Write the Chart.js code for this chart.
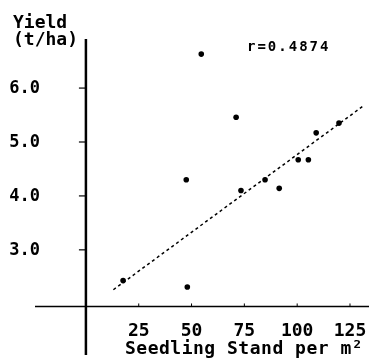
<!DOCTYPE html>
<html>
<head>
<meta charset="utf-8">
<script src="https://cdn.jsdelivr.net/npm/chart.js@4"></script>
<style>
  html, body { margin: 0; padding: 0; background: #fff; }
  #wrap { width: 373px; height: 364px; }
</style>
</head>
<body>
<div id="wrap"><canvas id="canvas1"></canvas></div>
<script>
// values
const seedlingStand = [17.6, 48, 47.5, 54.6, 71.1, 73.4, 84.8, 91.5, 100.5, 105.3, 109, 119.8];
const yieldValues = [2.43, 2.31, 4.30, 6.63, 5.46, 4.10, 4.30, 4.14, 4.67, 4.67, 5.17, 5.35];
// fitted line, read at both ends
const fitX = [13, 131];
const fitY = [2.26, 5.66];
const xTicks = [25, 50, 75, 100, 125];
const yTicks = [3, 4, 5, 6];
const xAxisAt = 1.95;   // where the x axis crosses the y axis
const yAxisAt = 0;

const monoFont = 'DejaVu Sans Mono';

function toPoints(xs, ys) {
    return xs.map((x, i) => ({ x: x, y: ys[i] }));
}

// axes are crossed inside the plot, so draw them by hand from the scales
const axesPlugin = {
    id: 'axes',
    beforeDatasetsDraw(chart) {
        const c = chart.ctx;
        const xs = chart.scales.x;
        const ys = chart.scales.y;
        const area = chart.chartArea;
        const x0 = xs.getPixelForValue(yAxisAt);
        const y0 = ys.getPixelForValue(xAxisAt);
        c.save();
        c.strokeStyle = '#000';
        c.fillStyle = '#000';

        c.lineWidth = 1.5;
        c.beginPath();
        c.moveTo(area.left, y0);
        c.lineTo(area.right, y0);
        c.stroke();

        c.lineWidth = 2.5;
        c.beginPath();
        c.moveTo(x0, area.top);
        c.lineTo(x0, area.bottom);
        c.stroke();

        // y ticks
        c.lineWidth = 1.2;
        c.font = 'bold 17px "' + monoFont + '"';
        c.textAlign = 'right';
        c.textBaseline = 'middle';
        yTicks.forEach(v => {
            const py = ys.getPixelForValue(v);
            c.beginPath();
            c.moveTo(x0 - 7, py);
            c.lineTo(x0, py);
            c.stroke();
            c.fillText(v.toFixed(1), 40, py + 1);
        });

        // x ticks
        c.lineWidth = 1;
        c.font = 'bold 18px "' + monoFont + '"';
        c.textAlign = 'center';
        c.textBaseline = 'alphabetic';
        xTicks.forEach(v => {
            const px = xs.getPixelForValue(v);
            c.beginPath();
            c.moveTo(px, y0 - 3);
            c.lineTo(px, y0);
            c.stroke();
            c.fillText(String(v), px, 336);
        });
        c.restore();
    }
};

// texts that sit outside the normal axis spots
const labelsPlugin = {
    id: 'labels',
    afterDraw(chart) {
        const c = chart.ctx;
        c.save();
        c.fillStyle = '#000';
        c.textBaseline = 'alphabetic';
        c.textAlign = 'left';
        c.font = 'bold 18px "' + monoFont + '"';
        c.fillText('Yield', 13, 28);
        c.fillText('(t/ha)', 13, 45);
        c.letterSpacing = '0.5px';
        c.fillText('Seedling Stand per m\u00B2', 125, 354);
        c.font = 'bold 14px "' + monoFont + '"';
        c.letterSpacing = '2px';
        c.fillText('r=0.4874', 247, 51);
        c.restore();
    }
};

const bgPlugin = {
    id: 'bg',
    beforeDraw(chart) {
        const c = chart.ctx;
        c.save();
        c.fillStyle = '#fff';
        c.fillRect(0, 0, chart.width, chart.height);
        c.restore();
    }
};

const ctx = document.getElementById('canvas1');
const chart1 = new Chart(ctx, {
    type: 'scatter',
    data: {
        datasets: [
            {
                label: 'Yield',
                data: toPoints(seedlingStand, yieldValues),
                backgroundColor: '#000',
                borderColor: '#000',
                pointRadius: 2.8,
                pointBorderWidth: 0
            },
            {
                type: 'line',
                label: 'fit',
                data: toPoints(fitX, fitY),
                borderColor: '#000',
                borderWidth: 1.5,
                borderDash: [3, 3],
                pointRadius: 0,
                fill: false
            }
        ]
    },
    options: {
        responsive: true,
        maintainAspectRatio: false,
        animation: false,
        layout: { padding: { left: 35, right: 3, top: 39, bottom: 9 } },
        plugins: {
            legend: { display: false },
            tooltip: { enabled: false }
        },
        scales: {
            x: { type: 'linear', min: -24.1, max: 134, display: false },
            y: { type: 'linear', min: 1.05, max: 6.91, display: false }
        }
    },
    plugins: [bgPlugin, axesPlugin, labelsPlugin]
});
</script>
</body>
</html>
